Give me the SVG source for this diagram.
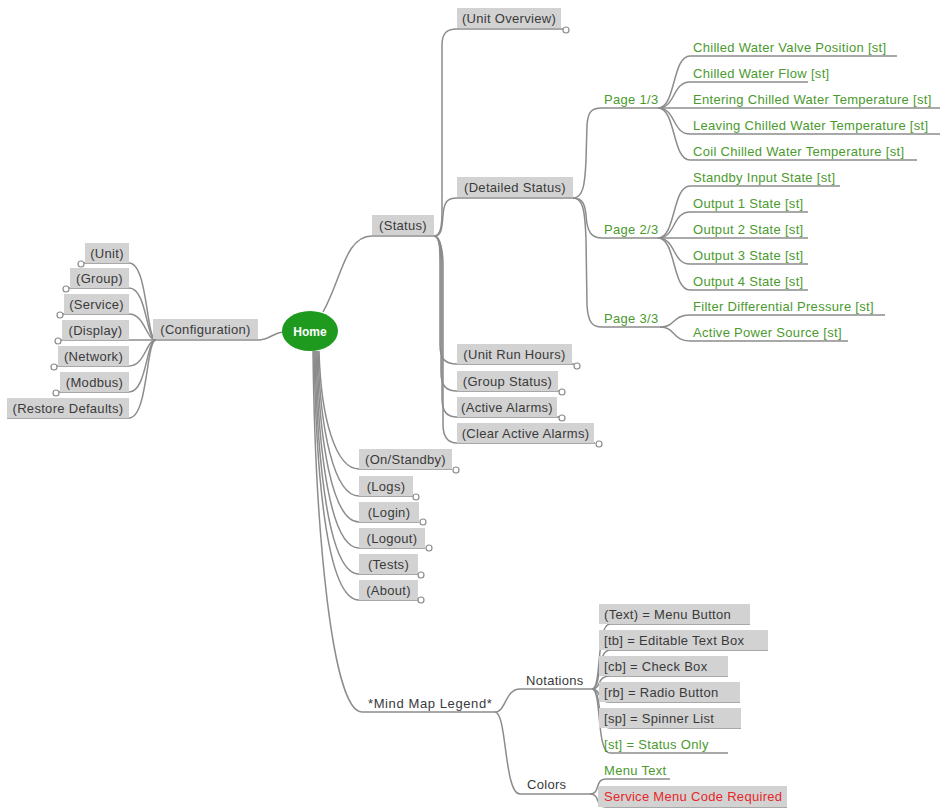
<svg xmlns="http://www.w3.org/2000/svg" width="943" height="809" viewBox="0 0 943 809">
<style>
.ln{fill:none;stroke:#8c8c8c;stroke-width:1.5}
.bx{fill:#d2d2d2}
.t{font-family:"Liberation Sans",Arial,sans-serif;font-size:13px;fill:#3a3a3a;letter-spacing:0.3px}
.m{text-anchor:middle}
.g{fill:#4a9a2e}
.r{fill:#e8262a}
.c{fill:#fff;stroke:#8c8c8c;stroke-width:1.2}
</style>
<rect width="943" height="809" fill="#fff"/>
<g id="connectors">
  <path class="ln" d="M153,340 L258,340 C270,340 272,333 283,332"/>
  <path class="ln" d="M81,263 L129,263 C148,263 146,340 156,340"/>
  <path class="ln" d="M66,288 L129,288 C147,288 146,340 156,340"/>
  <path class="ln" d="M60,314 L129,314 C145,314 146,340 156,340"/>
  <path class="ln" d="M58,340 L156,340"/>
  <path class="ln" d="M54,366 L129,366 C145,366 146,340 156,340"/>
  <path class="ln" d="M56,392 L129,392 C147,392 146,340 156,340"/>
  <path class="ln" d="M7,418 L129,418 C148,418 146,340 156,340"/>
  <path class="ln" d="M323,312 C342,278 345,236 372,236 L434,236"/>
  <path class="ln" d="M434,236 C441,236 442,225 442,210 L442,45 C442,33 447,29 457,29 L564,29"/>
  <path class="ln" d="M434,236 C441,236 442,230 443,215 C444,201 448,198 457,198 L573,198"/>
  <path class="ln" d="M434,236 C440,236 440,250 440,265 L440,345 C440,360 446,364 457,364 L574,364"/>
  <path class="ln" d="M434,236 C440,236 441,250 441,265 L441,372 C441,387 447,391 457,391 L559,391"/>
  <path class="ln" d="M434,236 C440,236 442,250 442,265 L442,398 C442,413 448,417 457,417 L559,417"/>
  <path class="ln" d="M434,236 C440,236 443,250 443,265 L443,424 C443,439 449,443 457,443 L595,443"/>
  <path class="ln" d="M573,198 C583,198 585,185 586,160 L587,125 C588,111 592,108 602,108 L658,108"/>
  <path class="ln" d="M573,198 C583,198 585,205 586,215 C587,233 592,238 602,238 L658,238"/>
  <path class="ln" d="M573,198 C583,198 585,210 586,240 L587,305 C588,322 592,327 602,327 L660,327"/>
  <path class="ln" d="M658,108 C676,108 672,56 690,56 L897,56"/>
  <path class="ln" d="M658,108 C676,108 672,82 690,82 L808,82"/>
  <path class="ln" d="M658,108 L940,108"/>
  <path class="ln" d="M658,108 C676,108 672,134 690,134 L940,134"/>
  <path class="ln" d="M658,108 C676,108 672,160 690,160 L917,160"/>
  <path class="ln" d="M658,238 C676,238 672,186 690,186 L840,186"/>
  <path class="ln" d="M658,238 C676,238 672,212 690,212 L808,212"/>
  <path class="ln" d="M658,238 L808,238"/>
  <path class="ln" d="M658,238 C676,238 672,264 690,264 L808,264"/>
  <path class="ln" d="M658,238 C676,238 672,290 690,290 L808,290"/>
  <path class="ln" d="M660,327 C676,327 672,315 690,315 L885,315"/>
  <path class="ln" d="M660,327 C676,327 672,341 690,341 L848,341"/>
  <path class="ln" d="M319,351 C321,420 336,469 359,469 L452,469"/>
  <path class="ln" d="M318,351 C320,430 334,496 359,496 L413,496"/>
  <path class="ln" d="M317,351 C319,440 332,522 359,522 L419,522"/>
  <path class="ln" d="M316,351 C318,450 330,548 359,548 L425,548"/>
  <path class="ln" d="M315,351 C317,460 328,574 359,574 L418,574"/>
  <path class="ln" d="M314,351 C316,470 326,600 359,600 L418,600"/>
  <path class="ln" d="M313,351 C315,530 332,712 362,712 L495,712"/>
  <path class="ln" d="M495,712 C506,712 505,689 520,689 L592,689"/>
  <path class="ln" d="M495,712 C507,712 504,794 520,794 L590,794"/>
  <path class="ln" d="M592,689 C602,689 596,624 610,624 L750,624"/>
  <path class="ln" d="M592,689 C602,689 596,650 610,650 L768,650"/>
  <path class="ln" d="M592,689 C602,689 596,676 610,676 L728,676"/>
  <path class="ln" d="M592,689 C602,689 596,702 610,702 L740,702"/>
  <path class="ln" d="M592,689 C602,689 596,728 610,728 L741,728"/>
  <path class="ln" d="M592,689 C602,689 596,753 610,753 L728,753"/>
  <path class="ln" d="M590,794 C601,794 594,779 606,779 L670,779"/>
  <path class="ln" d="M590,794 C601,794 594,807 606,807 L787,807"/>
</g>
<g id="home">
  <ellipse cx="310" cy="331" rx="28" ry="20" fill="#1e9a1e"/>
  <text x="310" y="336" class="t m" style="fill:#fff;font-weight:bold;font-size:12px;letter-spacing:0">Home</text>
</g>
<g id="configuration"><rect class="bx" x="153" y="319" width="105" height="20"/><text x="205.5" y="334" class="t m">(Configuration)</text></g>
<g id="unit"><rect class="bx" x="85" y="243" width="44" height="20"/><text x="107" y="258" class="t m">(Unit)</text><circle class="c" cx="81" cy="264" r="3"/></g>
<g id="group"><rect class="bx" x="70" y="268" width="59" height="20"/><text x="99.5" y="283" class="t m">(Group)</text><circle class="c" cx="66" cy="289" r="3"/></g>
<g id="service"><rect class="bx" x="64" y="294" width="65" height="20"/><text x="96.5" y="309" class="t m">(Service)</text><circle class="c" cx="60" cy="315" r="3"/></g>
<g id="display"><rect class="bx" x="62" y="320" width="67" height="20"/><text x="95.5" y="335" class="t m">(Display)</text><circle class="c" cx="58" cy="341" r="3"/></g>
<g id="network"><rect class="bx" x="58" y="346" width="71" height="20"/><text x="93.5" y="361" class="t m">(Network)</text><circle class="c" cx="54" cy="367" r="3"/></g>
<g id="modbus"><rect class="bx" x="60" y="372" width="69" height="20"/><text x="94.5" y="387" class="t m">(Modbus)</text><circle class="c" cx="56" cy="393" r="3"/></g>
<g id="restore-defaults"><rect class="bx" x="7" y="398" width="122" height="20"/><text x="68" y="413" class="t m">(Restore Defaults)</text></g>
<g id="status"><rect class="bx" x="372" y="215" width="62" height="20"/><text x="403" y="230" class="t m">(Status)</text></g>
<g id="unit-overview"><rect class="bx" x="457" y="8" width="104" height="20"/><text x="509" y="23" class="t m">(Unit Overview)</text><circle class="c" cx="566" cy="30" r="3"/></g>
<g id="detailed-status"><rect class="bx" x="457" y="177" width="116" height="20"/><text x="515" y="192" class="t m">(Detailed Status)</text></g>
<g id="unit-run-hours"><rect class="bx" x="457" y="344" width="115" height="20"/><text x="514.5" y="359" class="t m">(Unit Run Hours)</text><circle class="c" cx="577" cy="366" r="3"/></g>
<g id="group-status"><rect class="bx" x="457" y="371" width="101" height="20"/><text x="507.5" y="386" class="t m">(Group Status)</text><circle class="c" cx="562" cy="392" r="3"/></g>
<g id="active-alarms"><rect class="bx" x="457" y="397" width="100" height="20"/><text x="507" y="412" class="t m">(Active Alarms)</text><circle class="c" cx="562" cy="418" r="3"/></g>
<g id="clear-active-alarms"><rect class="bx" x="457" y="423" width="137" height="20"/><text x="525.5" y="438" class="t m">(Clear Active Alarms)</text><circle class="c" cx="599" cy="444" r="3"/></g>
<g id="page1"><text x="604" y="104" class="t g">Page 1/3</text></g>
<g id="page2"><text x="604" y="234" class="t g">Page 2/3</text></g>
<g id="page3"><text x="604" y="323" class="t g">Page 3/3</text></g>
<g id="p1-items">
  <text x="693" y="52" class="t g">Chilled Water Valve Position [st]</text>
  <text x="693" y="78" class="t g">Chilled Water Flow [st]</text>
  <text x="693" y="104" class="t g">Entering Chilled Water Temperature [st]</text>
  <text x="693" y="130" class="t g">Leaving Chilled Water Temperature [st]</text>
  <text x="693" y="156" class="t g">Coil Chilled Water Temperature [st]</text>
</g>
<g id="p2-items">
  <text x="693" y="182" class="t g">Standby Input State [st]</text>
  <text x="693" y="208" class="t g">Output 1 State [st]</text>
  <text x="693" y="234" class="t g">Output 2 State [st]</text>
  <text x="693" y="260" class="t g">Output 3 State [st]</text>
  <text x="693" y="286" class="t g">Output 4 State [st]</text>
</g>
<g id="p3-items">
  <text x="693" y="311" class="t g">Filter Differential Pressure [st]</text>
  <text x="693" y="337" class="t g">Active Power Source [st]</text>
</g>
<g id="on-standby"><rect class="bx" x="359" y="449" width="93" height="20"/><text x="405.5" y="464" class="t m">(On/Standby)</text><circle class="c" cx="456" cy="470" r="3"/></g>
<g id="logs"><rect class="bx" x="359" y="476" width="54" height="20"/><text x="386" y="491" class="t m">(Logs)</text><circle class="c" cx="416" cy="497" r="3"/></g>
<g id="login"><rect class="bx" x="359" y="502" width="60" height="20"/><text x="389" y="517" class="t m">(Login)</text><circle class="c" cx="423" cy="522" r="3"/></g>
<g id="logout"><rect class="bx" x="359" y="528" width="66" height="20"/><text x="392" y="543" class="t m">(Logout)</text><circle class="c" cx="429" cy="548" r="3"/></g>
<g id="tests"><rect class="bx" x="359" y="554" width="59" height="20"/><text x="388.5" y="569" class="t m">(Tests)</text><circle class="c" cx="421" cy="575" r="3"/></g>
<g id="about"><rect class="bx" x="359" y="580" width="59" height="20"/><text x="388.5" y="595" class="t m">(About)</text><circle class="c" cx="421" cy="600" r="3"/></g>
<g id="legend"><text x="368" y="708" class="t" style="letter-spacing:0.6px">*Mind Map Legend*</text></g>
<g id="notations"><text x="526" y="685" class="t">Notations</text></g>
<g id="colors"><text x="527" y="789" class="t">Colors</text></g>
<g id="legend-items">
  <rect class="bx" x="599" y="604" width="151" height="20"/><text x="604" y="619" class="t">(Text) = Menu Button</text>
  <rect class="bx" x="599" y="630" width="169" height="20"/><text x="604" y="645" class="t">[tb] = Editable Text Box</text>
  <rect class="bx" x="599" y="656" width="129" height="20"/><text x="604" y="671" class="t">[cb] = Check Box</text>
  <rect class="bx" x="599" y="682" width="141" height="20"/><text x="604" y="697" class="t">[rb] = Radio Button</text>
  <rect class="bx" x="599" y="708" width="142" height="20"/><text x="604" y="723" class="t">[sp] = Spinner List</text>
  <text x="604" y="749" class="t g">[st] = Status Only</text>
  <text x="604" y="775" class="t g">Menu Text</text>
  <rect class="bx" x="598" y="786" width="189" height="21"/><text x="604" y="801" class="t r">Service Menu Code Required</text>
</g>
</svg>
